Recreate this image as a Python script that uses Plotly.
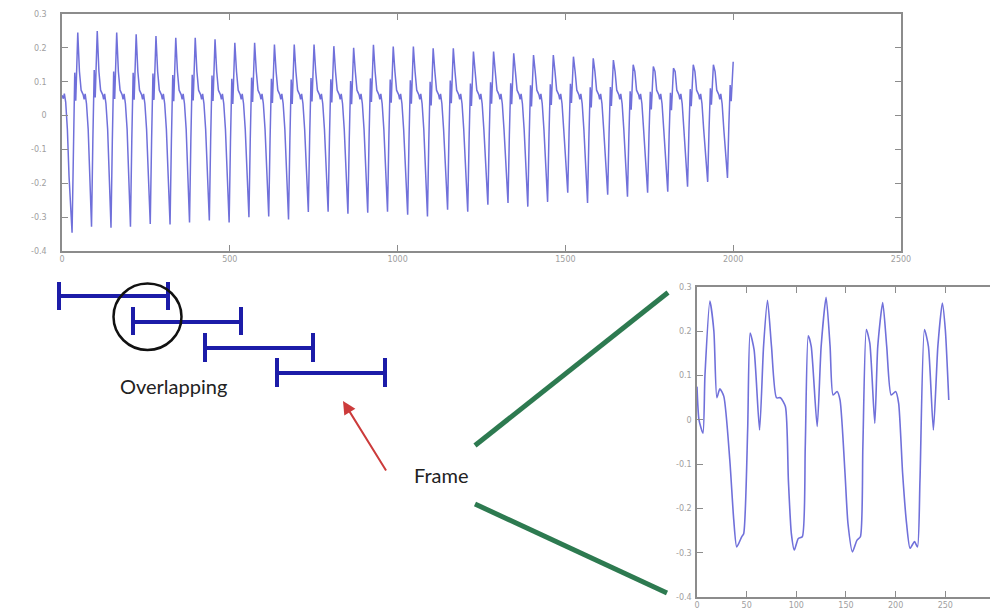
import plotly.graph_objects as go

W, H = 990, 613

# ---------------- data ----------------
# overview signal: per-cycle peaks and preceding troughs
peak_x = [47, 105, 163, 221, 280, 339, 397, 456, 515, 574, 633, 692, 751, 810, 869,
          928, 987, 1047, 1106, 1166, 1226, 1286, 1346, 1405, 1464, 1524, 1583, 1643,
          1702, 1762, 1822, 1881, 1941, 2000]
peak_y = [0.245, 0.25, 0.245, 0.24, 0.235, 0.23, 0.23, 0.225, 0.215, 0.215, 0.21, 0.21,
          0.21, 0.205, 0.2, 0.209, 0.204, 0.204, 0.199, 0.199, 0.189, 0.189, 0.184, 0.179,
          0.179, 0.174, 0.169, 0.164, 0.15, 0.145, 0.14, 0.15, 0.15, 0.159]
trough_y = [-0.346, -0.328, -0.331, -0.328, -0.32, -0.322, -0.316, -0.31, -0.316, -0.3,
            -0.298, -0.307, -0.285, -0.284, -0.29, -0.287, -0.284, -0.293, -0.298, -0.278,
            -0.284, -0.263, -0.258, -0.269, -0.255, -0.228, -0.258, -0.234, -0.24, -0.228,
            -0.225, -0.21, -0.196, -0.184]
start_x = [0, 4, 7, 11, 16, 21]
start_y = [0.06, 0.05, 0.065, 0.04, -0.04, -0.18]
# cycle shape (offsets in samples relative to each peak)
rise_dx = [-17, -13, -9, -6, -3]
rise_frac = [0.0, 0.45, 0.8, 0.66, 0.86]
fall_dx = [5, 10, 16, 19, 22, 26, 31]
fall_y = [0.13, 0.075, 0.062, 0.048, 0.064, 0.035, -0.04]

# zoomed frame (bottom-right panel)
frame_x = [0, 2, 6, 8, 13, 17, 20, 23, 27, 33, 37, 40, 45, 47, 51, 53.5, 57.5, 63, 67, 71,
           75, 80, 84, 89, 92, 95, 98, 102, 106, 109, 112, 115, 121, 125, 130, 134, 137,
           141, 144, 149, 152, 156.5, 161, 164.5, 167, 170.5, 174, 179, 182, 187, 191,
           195.5, 200, 203, 207, 211, 214.5, 219, 222, 224.5, 229, 233, 238, 242.5, 247,
           250, 253.5]
frame_y = [0.075, 0.0, -0.03, 0.1, 0.268, 0.2, 0.05, 0.07, 0.053, -0.09, -0.226, -0.287,
           -0.264, -0.257, -0.023, 0.196, 0.158, -0.023, 0.166, 0.27, 0.166, 0.05, 0.05,
           0.03, -0.136, -0.257, -0.294, -0.268, -0.264, -0.06, 0.19, 0.166, -0.015, 0.166,
           0.277, 0.166, 0.056, 0.064, 0.045, -0.12, -0.234, -0.298, -0.272, -0.264, -0.06,
           0.204, 0.173, -0.008, 0.166, 0.265, 0.166, 0.056, 0.064, 0.038, -0.12, -0.234,
           -0.29, -0.275, -0.287, -0.136, 0.204, 0.166, -0.023, 0.166, 0.264, 0.204, 0.045]

top_xticks = [0, 500, 1000, 1500, 2000, 2500]
top_xlabels = ["0", "500", "1000", "1500", "2000", "2500"]
y_ticks = [-0.4, -0.3, -0.2, -0.1, 0, 0.1, 0.2, 0.3]
y_labels = ["-0.4", "-0.3", "-0.2", "-0.1", "0", "0.1", "0.2", "0.3"]
frame_xticks = [0, 50, 100, 150, 200, 250, 300]
frame_xlabels = ["0", "50", "100", "150", "200", "250", "300"]

# ---------------- build overview series ----------------
top_x = list(start_x)
top_y = list(start_y)
for i, (px_, pv) in enumerate(zip(peak_x, peak_y)):
    tv = trough_y[i]
    for dx, fr in zip(rise_dx, rise_frac):
        top_x.append(px_ + dx)
        top_y.append(tv + fr * (pv - tv))
    top_x.append(px_)
    top_y.append(pv)
    if i + 1 < len(peak_x):
        for dx, fv in zip(fall_dx, fall_y):
            top_x.append(px_ + dx)
            top_y.append(fv)
        top_x.append(px_ + 36)
        top_y.append(0.55 * trough_y[i + 1])

# ---------------- figure ----------------
def X(p):
    return p / W


def Y(p):
    return 1 - p / H


sig_color = "#7070da"
axis_col = "#8c8c8c"
lab_font = dict(family="DejaVu Sans", size=8, color="#a0a0a0")

fig = go.Figure()
fig.add_trace(go.Scatter(x=top_x, y=top_y, mode="lines",
                         line=dict(color=sig_color, width=1.5),
                         xaxis="x", yaxis="y", hoverinfo="skip"))
fig.add_trace(go.Scatter(x=frame_x, y=frame_y, mode="lines",
                         line=dict(color=sig_color, width=1.6, shape="spline", smoothing=0.6),
                         xaxis="x2", yaxis="y2", hoverinfo="skip"))

common = dict(showgrid=False, zeroline=False, showline=True, linecolor=axis_col,
              linewidth=1.5, ticks="inside", ticklen=6, tickcolor=axis_col,
              tickwidth=1, tickfont=lab_font, automargin=False)

shapes = []
bar_col = "#1c1ca8"
bars = [(59, 168, 296, 282, 310), (133, 241, 322, 307, 335),
        (205, 313, 348, 333, 362), (277, 385, 373, 358, 387)]
for x0, x1, yc, yt, yb in bars:
    shapes.append(dict(type="line", xref="paper", yref="paper", x0=X(x0), x1=X(x1),
                       y0=Y(yc), y1=Y(yc), line=dict(color=bar_col, width=4)))
    for xx in (x0, x1):
        shapes.append(dict(type="line", xref="paper", yref="paper", x0=X(xx), x1=X(xx),
                           y0=Y(yt), y1=Y(yb), line=dict(color=bar_col, width=4)))
shapes.append(dict(type="circle", xref="paper", yref="paper", x0=X(113.5), x1=X(181.5),
                   y0=Y(350), y1=Y(283.5), line=dict(color="#111111", width=2.5)))
green = "#2d7a50"
shapes.append(dict(type="line", xref="paper", yref="paper", x0=X(475), y0=Y(445.5),
                   x1=X(668), y1=Y(292.5), line=dict(color=green, width=5)))
shapes.append(dict(type="line", xref="paper", yref="paper", x0=X(475), y0=Y(504),
                   x1=X(667), y1=Y(593), line=dict(color=green, width=5)))

annotations = [
    dict(text="Overlapping", x=X(173), y=Y(386), xref="paper", yref="paper",
         xanchor="center", yanchor="middle",
         showarrow=False, font=dict(family="Lato", size=20, color="#222222")),
    dict(text="Frame", x=X(441), y=Y(475), xref="paper", yref="paper",
         xanchor="center", yanchor="middle",
         showarrow=False, font=dict(family="Lato", size=20, color="#222222")),
    dict(text="", x=X(343), y=Y(401), xref="paper", yref="paper", showarrow=True,
         ax=44, ay=71, arrowhead=2, arrowsize=1.3, arrowwidth=2, arrowcolor="#cc3b3b"),
]

fig.update_layout(
    width=W, height=H, margin=dict(l=0, r=0, t=0, b=0, pad=0, autoexpand=False),
    paper_bgcolor="white", plot_bgcolor="white", showlegend=False,
    xaxis=dict(domain=[X(62), X(901)], range=[0, 2500], tickvals=top_xticks,
               ticktext=top_xlabels, mirror="ticks", anchor="y", **common),
    yaxis=dict(domain=[Y(251), Y(14)], range=[-0.4, 0.3], tickvals=y_ticks,
               ticktext=y_labels, mirror="ticks", anchor="x", ticklabelstandoff=12, **common),
    xaxis2=dict(domain=[X(697), 1.0], range=[0, 295], tickvals=frame_xticks,
                ticktext=frame_xlabels, mirror="ticks", anchor="y2", **common),
    yaxis2=dict(domain=[Y(597), Y(287)], range=[-0.4, 0.3], tickvals=y_ticks,
                ticktext=y_labels, mirror=False, anchor="x2", ticklabelstandoff=2, **common),
    shapes=shapes, annotations=annotations,
)

fig.write_html(
    "out.html",
    config={"displayModeBar": False},
    post_script="document.body.style.margin='0';document.body.style.overflow='hidden';",
)
